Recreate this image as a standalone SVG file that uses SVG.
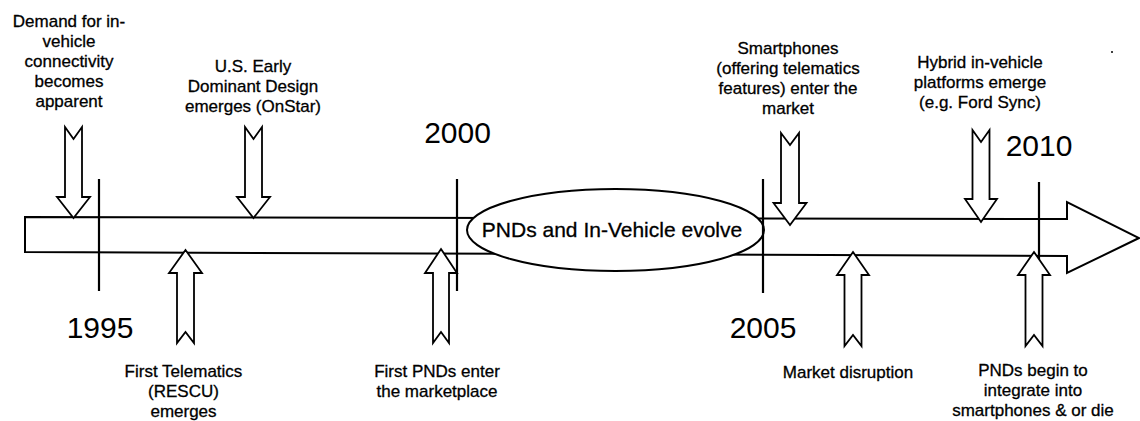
<svg xmlns="http://www.w3.org/2000/svg" width="1140" height="421" viewBox="0 0 1140 421">
<style>
text{font-family:"Liberation Sans",Arial,sans-serif;fill:#000;text-anchor:middle}
.lbl{font-size:17px;stroke:#000;stroke-width:0.3}
.yr{font-size:30px}
.ev{font-size:21px;stroke:#000;stroke-width:0.3}
.shape{fill:#fff;stroke:#000;stroke-width:2;stroke-linejoin:miter}
.tick{stroke:#000;stroke-width:2.2;fill:none}
.blk{fill:#fff;stroke:#000;stroke-width:1.8;stroke-linejoin:miter}
</style>
<rect width="1140" height="421" fill="#fff"/>
<g id="timeline">
<path class="shape" d="M25,217 L1067,219 L1067,202 L1139,238 L1067,273 L1067,256 L25,252 Z"/>
</g>
<g id="evolve">
<ellipse class="shape" cx="615.5" cy="230" rx="148.5" ry="41"/>
<text class="ev" x="612" y="237">PNDs and In-Vehicle evolve</text>
</g>
<g id="year-1995">
<line class="tick" x1="99" y1="179" x2="99" y2="291"/>
<text class="yr" x="100" y="338">1995</text>
</g>
<g id="year-2000">
<line class="tick" x1="457" y1="179" x2="457" y2="291"/>
<text class="yr" x="457.5" y="143">2000</text>
</g>
<g id="year-2005">
<line class="tick" x1="763" y1="179" x2="763" y2="293"/>
<text class="yr" x="763" y="338">2005</text>
</g>
<g id="year-2010">
<line class="tick" x1="1039" y1="182" x2="1039" y2="291"/>
<text class="yr" x="1039" y="156">2010</text>
</g>
<g id="connectors">
<path class="blk" d="M65,127 L73.5,139 L82,127 L82,197 L90,197 L73.5,218 L57,197 L65,197 Z"/>
<path class="blk" d="M245,127 L253.5,139 L262,127 L262,197 L270,197 L253.5,218 L237,197 L245,197 Z"/>
<path class="blk" d="M781,133 L790,145 L799,133 L799,203 L806.5,203 L790,225 L773.5,203 L781,203 Z"/>
<path class="blk" d="M972.5,130 L981,142 L989.5,130 L989.5,199 L997,199 L981,222 L965,199 L972.5,199 Z"/>
<path class="blk" d="M185.5,250 L202,273 L194,273 L194,343 L185.5,332 L177,343 L177,273 L169,273 Z"/>
<path class="blk" d="M441,249 L457,273 L449,273 L449,343 L441,332 L433,343 L433,273 L425,273 Z"/>
<path class="blk" d="M853,252 L869,275 L861.5,275 L861.5,346 L853,335 L844.5,346 L844.5,275 L837,275 Z"/>
<path class="blk" d="M1034,252 L1050,275 L1042.5,275 L1042.5,346 L1034,335 L1025.5,346 L1025.5,275 L1018,275 Z"/>
</g>
<g id="demand">
<text class="lbl" x="69" y="27">Demand for in-</text>
<text class="lbl" x="69" y="47">vehicle</text>
<text class="lbl" x="69" y="67">connectivity</text>
<text class="lbl" x="69" y="87">becomes</text>
<text class="lbl" x="69" y="107">apparent</text>
</g>
<g id="onstar">
<text class="lbl" x="253" y="72">U.S. Early</text>
<text class="lbl" x="253" y="92">Dominant Design</text>
<text class="lbl" x="253" y="112">emerges (OnStar)</text>
</g>
<g id="smartphones">
<text class="lbl" x="788" y="54">Smartphones</text>
<text class="lbl" x="788" y="74">(offering telematics</text>
<text class="lbl" x="788" y="94">features) enter the</text>
<text class="lbl" x="788" y="114">market</text>
</g>
<g id="hybrid">
<text class="lbl" x="980" y="68">Hybrid in-vehicle</text>
<text class="lbl" x="980" y="88">platforms emerge</text>
<text class="lbl" x="980" y="108">(e.g. Ford Sync)</text>
</g>
<g id="telematics">
<text class="lbl" x="183.5" y="377">First Telematics</text>
<text class="lbl" x="183.5" y="397">(RESCU)</text>
<text class="lbl" x="183.5" y="417">emerges</text>
</g>
<g id="first-pnds">
<text class="lbl" x="437" y="377">First PNDs enter</text>
<text class="lbl" x="437" y="397">the marketplace</text>
</g>
<g id="disruption">
<text class="lbl" x="848" y="378">Market disruption</text>
</g>
<g id="pnds-integrate">
<text class="lbl" x="1033" y="376">PNDs begin to</text>
<text class="lbl" x="1033" y="396">integrate into</text>
<text class="lbl" x="1033" y="416">smartphones &amp; or die</text>
</g>
<circle cx="1112" cy="52" r="1" fill="#000"/>
</svg>
